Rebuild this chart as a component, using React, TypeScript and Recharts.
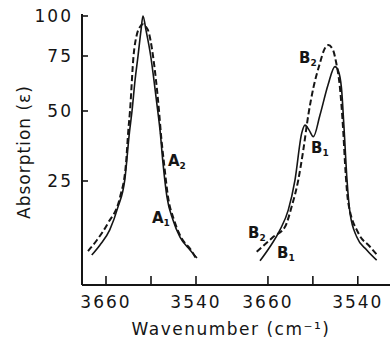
import React from "react";
import { LineChart, Line, XAxis, YAxis } from "recharts";

// left panel: band A, wavenumber (cm-1) and absorption (ε)
const a1Wavenumber = [3679, 3668, 3655, 3644, 3635, 3628.7, 3625.3, 3621.3, 3617.3, 3613.3, 3610.7, 3606.7, 3600.4, 3596, 3591, 3588, 3584, 3578.7, 3570.7, 3561.3, 3548, 3538.7];
const a1Absorption = [3.0, 5.8, 10.1, 16.9, 25.3, 41.9, 50, 63, 75, 90, 100, 90, 75, 63, 50, 42.7, 30.9, 19.9, 13.0, 8.0, 4.4, 2.2];
const a2Wavenumber = [3684, 3672, 3657.3, 3641.3, 3633.3, 3630.3, 3628, 3623.3, 3619, 3615, 3610.7, 3606.5, 3604, 3597.3, 3593.3, 3589.3, 3586.7, 3582.7, 3577.3, 3569.3, 3560, 3546.7, 3538.7];
const a2Absorption = [4.1, 7.2, 12.1, 19.9, 30.9, 42.3, 50, 75, 87, 92, 94, 92, 90, 75, 63, 50, 41, 31, 20, 13, 8, 4.4, 1.6];

// right panel: band B
const b1Wavenumber = [3670.6, 3657.3, 3643.9, 3632.8, 3623.9, 3614.9, 3610.5, 3605.2, 3599.4, 3590.5, 3579.8, 3570.5, 3566.4, 3561.8, 3558.6, 3554.4, 3550.4, 3541.5, 3528.1, 3514.8];
const b1Absorption = [1.4, 5.3, 10.1, 16.0, 25.3, 41.5, 44.5, 42.7, 40.2, 48.4, 61.0, 69.6, 67.9, 59.6, 44.5, 25.3, 15.1, 8.1, 4.4, 1.6];
const b2Wavenumber = [3675.0, 3652.8, 3637.2, 3628.3, 3619.5, 3612.8, 3606.1, 3599.4, 3590.5, 3585.1, 3579.4, 3573.1, 3569.1, 3563.8, 3559.4, 3557.1, 3552.7, 3539.3, 3523.7, 3512.6];
const b2Absorption = [3.9, 8.1, 11.0, 17.0, 25.3, 35.4, 48.4, 59.6, 71.4, 78.2, 81.0, 78.2, 72.0, 59.6, 42.0, 30.9, 18.1, 9.2, 5.3, 2.6];

const yTicks = [25, 50, 75, 100];
const xTicks = [3660, 3600, 3540];
const xTickLabels = [3660, 3540];

// the printed ordinate is not linear: gaps grow toward the bottom
const squash = (v: number) => 3.7 * v - 0.012 * v * v;
const unsquash = (f: number) => (3.7 - Math.sqrt(13.69 - 0.048 * f)) / 0.024;

const toRows = (w: number[], a: number[]) => w.map((x, i) => ({ w: x, y: squash(a[i]) }));

const ink = "#151515";
const font = "'DejaVu Sans', sans-serif";
const yDomain: [number, number] = [-19, 252];

function XTick({ x, y, payload }: any) {
  const show = xTickLabels.includes(payload.value);
  return (
    <g>
      <line x1={x} y1={y} x2={x} y2={y - 9} stroke={ink} strokeWidth={1.6} />
      {show && (
        <text x={x} y={y + 23} textAnchor="middle" fontSize={17} fontFamily={font} fill={ink} letterSpacing={2}>
          {payload.value}
        </text>
      )}
    </g>
  );
}

function YTick({ x, y, payload }: any) {
  return (
    <g>
      <line x1={x} y1={y} x2={x + 6} y2={y} stroke={ink} strokeWidth={1.6} />
      <text x={x - 9} y={y + 6} textAnchor="end" fontSize={17} fontFamily={font} fill={ink} letterSpacing={2}>
        {Math.round(unsquash(payload.value))}
      </text>
    </g>
  );
}

function CurveLabel({ x, y, name, sub }: { x: number; y: number; name: string; sub: string }) {
  return (
    <text x={x} y={y} fontSize={15} fontWeight="bold" fontFamily={font} fill={ink}>
      {name}
      <tspan fontSize={9} dy={3}>{sub}</tspan>
    </text>
  );
}

export default function App() {
  const solid = { type: "monotone" as const, dataKey: "y", stroke: ink, strokeWidth: 1.6, dot: false, isAnimationActive: false };
  const dashed = { ...solid, strokeWidth: 2, strokeDasharray: "6 3" };

  const xAxisCommon = {
    dataKey: "w",
    type: "number" as const,
    reversed: true,
    allowDataOverflow: true,
    ticks: xTicks,
    interval: 0,
    tickSize: 0,
    tickMargin: 0,
    tickLine: false,
    axisLine: { stroke: ink, strokeWidth: 2 },
    height: 56,
    tick: <XTick />,
  };

  return (
    <div style={{ position: "absolute", left: 0, top: 0, width: 390, height: 341, background: "#fff" }}>
      <div style={{ position: "absolute", left: 0, top: 0 }}>
        <LineChart width={232} height={341} margin={{ top: 14, right: 0, bottom: 0, left: 0 }}>
          <XAxis {...xAxisCommon} domain={[3492, 3692]} />
          <YAxis
            type="number"
            domain={yDomain}
            allowDataOverflow
            ticks={yTicks.map(squash)}
            interval={0}
            width={82}
            tickSize={0}
            tickMargin={0}
            tickLine={false}
            axisLine={{ stroke: ink, strokeWidth: 2 }}
            tick={<YTick />}
          />
          <Line {...solid} data={toRows(a1Wavenumber, a1Absorption)} />
          <Line {...dashed} data={toRows(a2Wavenumber, a2Absorption)} />
        </LineChart>
      </div>
      <div style={{ position: "absolute", left: 232, top: 0 }}>
        <LineChart width={158} height={341} margin={{ top: 14, right: 0, bottom: 0, left: 0 }}>
          <XAxis {...xAxisCommon} domain={[3497, 3708]} />
          <YAxis hide type="number" domain={yDomain} allowDataOverflow />
          <Line {...solid} data={toRows(b1Wavenumber, b1Absorption)} />
          <Line {...dashed} data={toRows(b2Wavenumber, b2Absorption)} />
        </LineChart>
      </div>
      <svg width={390} height={341} style={{ position: "absolute", left: 0, top: 0, pointerEvents: "none" }}>
        <text
          transform="translate(30,152) rotate(-90)"
          textAnchor="middle"
          fontSize={17}
          fontFamily={font}
          fill={ink}
          letterSpacing={1}
        >
          Absorption (ε)
        </text>
        <text x={231} y={335} textAnchor="middle" fontSize={17} fontFamily={font} fill={ink} letterSpacing={1.5}>
          Wavenumber (cm⁻¹)
        </text>
        <CurveLabel x={168} y={166} name="A" sub="2" />
        <CurveLabel x={152} y={223} name="A" sub="1" />
        <CurveLabel x={299} y={63} name="B" sub="2" />
        <CurveLabel x={311} y={153} name="B" sub="1" />
        <CurveLabel x={248} y={238} name="B" sub="2" />
        <CurveLabel x={277} y={258} name="B" sub="1" />
      </svg>
    </div>
  );
}
